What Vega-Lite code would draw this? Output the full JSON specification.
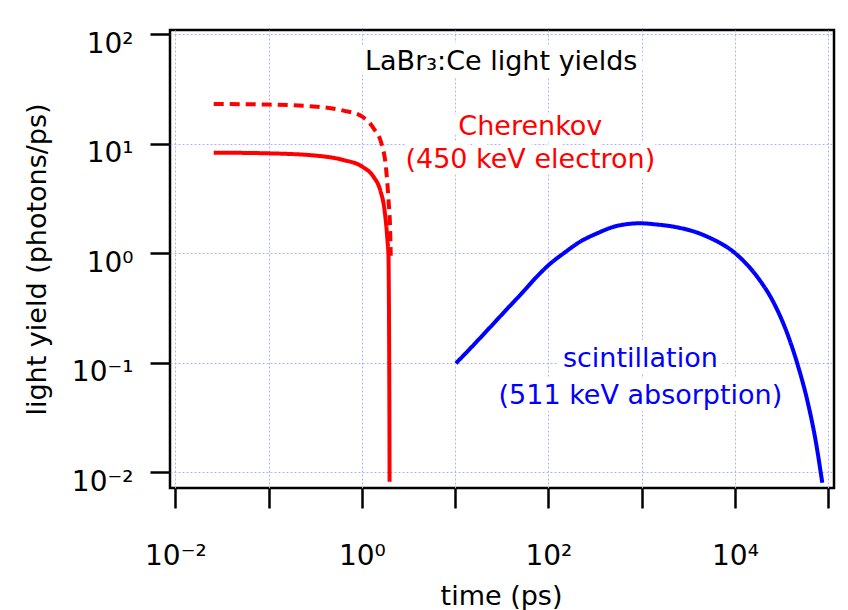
{
  "$schema": "https://vega.github.io/schema/vega-lite/v6.json",
  "autosize": "none",
  "width": 664,
  "height": 458,
  "padding": {"left": 170, "top": 30, "right": 14, "bottom": 122},
  "background": "white",
  "config": {
    "font": "DejaVu Sans",
    "view": {"stroke": "black", "strokeWidth": 2.5}
  },
  "datasets": {
    "curves": [
      {"t": 0.0258, "y": 8.3, "group": "Cherenkov", "variant": "a"},
      {"t": 0.101, "y": 8.18, "group": "Cherenkov", "variant": "a"},
      {"t": 0.329, "y": 7.78, "group": "Cherenkov", "variant": "a"},
      {"t": 0.635, "y": 7.11, "group": "Cherenkov", "variant": "a"},
      {"t": 1.01, "y": 6.18, "group": "Cherenkov", "variant": "a"},
      {"t": 1.33, "y": 5.01, "group": "Cherenkov", "variant": "a"},
      {"t": 1.57, "y": 3.79, "group": "Cherenkov", "variant": "a"},
      {"t": 1.75, "y": 2.48, "group": "Cherenkov", "variant": "a"},
      {"t": 1.88, "y": 1.32, "group": "Cherenkov", "variant": "a"},
      {"t": 1.93, "y": 0.93, "group": "Cherenkov", "variant": "a"},
      {"t": 1.95, "y": 0.37, "group": "Cherenkov", "variant": "a"},
      {"t": 1.965, "y": 0.099, "group": "Cherenkov", "variant": "a"},
      {"t": 1.975, "y": 0.03, "group": "Cherenkov", "variant": "a"},
      {"t": 1.982, "y": 0.0082, "group": "Cherenkov", "variant": "a"},
      {"t": 0.0258, "y": 23.1, "group": "Cherenkov", "variant": "b"},
      {"t": 0.101, "y": 22.8, "group": "Cherenkov", "variant": "b"},
      {"t": 0.329, "y": 21.8, "group": "Cherenkov", "variant": "b"},
      {"t": 0.635, "y": 20.1, "group": "Cherenkov", "variant": "b"},
      {"t": 1.01, "y": 17.7, "group": "Cherenkov", "variant": "b"},
      {"t": 1.33, "y": 13.9, "group": "Cherenkov", "variant": "b"},
      {"t": 1.64, "y": 9.75, "group": "Cherenkov", "variant": "b"},
      {"t": 1.81, "y": 6.18, "group": "Cherenkov", "variant": "b"},
      {"t": 1.93, "y": 3.07, "group": "Cherenkov", "variant": "b"},
      {"t": 2.01, "y": 1.63, "group": "Cherenkov", "variant": "b"},
      {"t": 2.04, "y": 0.95, "group": "Cherenkov", "variant": "b"},
      {"t": 10.2, "y": 0.099, "group": "scintillation", "variant": "a"},
      {"t": 15.7, "y": 0.145, "group": "scintillation", "variant": "a"},
      {"t": 23.8, "y": 0.212, "group": "scintillation", "variant": "a"},
      {"t": 36, "y": 0.31, "group": "scintillation", "variant": "a"},
      {"t": 54.2, "y": 0.45, "group": "scintillation", "variant": "a"},
      {"t": 75.5, "y": 0.615, "group": "scintillation", "variant": "a"},
      {"t": 100.5, "y": 0.781, "group": "scintillation", "variant": "a"},
      {"t": 145.6, "y": 1.0, "group": "scintillation", "variant": "a"},
      {"t": 220, "y": 1.28, "group": "scintillation", "variant": "a"},
      {"t": 332, "y": 1.52, "group": "scintillation", "variant": "a"},
      {"t": 544, "y": 1.78, "group": "scintillation", "variant": "a"},
      {"t": 968, "y": 1.88, "group": "scintillation", "variant": "a"},
      {"t": 1462, "y": 1.83, "group": "scintillation", "variant": "a"},
      {"t": 2203, "y": 1.75, "group": "scintillation", "variant": "a"},
      {"t": 5035, "y": 1.42, "group": "scintillation", "variant": "a"},
      {"t": 10570, "y": 0.966, "group": "scintillation", "variant": "a"},
      {"t": 17300, "y": 0.611, "group": "scintillation", "variant": "a"},
      {"t": 26100, "y": 0.352, "group": "scintillation", "variant": "a"},
      {"t": 36300, "y": 0.186, "group": "scintillation", "variant": "a"},
      {"t": 46500, "y": 0.099, "group": "scintillation", "variant": "a"},
      {"t": 59500, "y": 0.0457, "group": "scintillation", "variant": "a"},
      {"t": 73100, "y": 0.0197, "group": "scintillation", "variant": "a"},
      {"t": 86300, "y": 0.00804, "group": "scintillation", "variant": "a"}
    ],
    "notes": [
      {"t": 31.2, "y": 47.2, "label": "LaBr₃:Ce light yields", "group": "title"},
      {"t": 64, "y": 12.0, "label": "Cherenkov", "group": "Cherenkov"},
      {"t": 64, "y": 5.97, "label": "(450 keV electron)", "group": "Cherenkov"},
      {"t": 968, "y": 0.092, "label": "scintillation", "group": "scintillation"},
      {"t": 968, "y": 0.0421, "label": "(511 keV absorption)", "group": "scintillation"}
    ]
  },
  "encoding": {
    "x": {
      "field": "t",
      "type": "quantitative",
      "scale": {"type": "log", "domain": [0.00877, 115300], "nice": false, "zero": false},
      "axis": {
        "title": "time (ps)",
        "values": [0.01, 0.1, 1, 10, 100, 1000, 10000, 100000],
        "labelExpr": "datum.value < 0.05 ? '10⁻²' : (datum.value > 0.5 && datum.value < 2) ? '10⁰' : (datum.value > 50 && datum.value < 200) ? '10²' : (datum.value > 5000 && datum.value < 20000) ? '10⁴' : ''",
        "domain": false,
        "tickColor": "black",
        "tickWidth": 2.5,
        "tickSize": 20,
        "labelFont": "DejaVu Sans",
        "labelFontSize": 28,
        "labelColor": "black",
        "labelPadding": 56,
        "labelBaseline": "alphabetic",
        "labelFlush": false,
        "labelOverlap": false,
        "labelBound": false,
        "grid": true,
        "gridColor": "#b0b0ff",
        "gridDash": [2, 2],
        "gridWidth": 1,
        "titleFont": "DejaVu Sans",
        "titleFontSize": 27,
        "titleFontWeight": "normal",
        "titleColor": "black",
        "titleX": 331,
        "titleY": 116,
        "titleBaseline": "alphabetic",
        "titleAlign": "center"
      }
    },
    "y": {
      "field": "y",
      "type": "quantitative",
      "scale": {"type": "log", "domain": [0.007194, 109.4], "nice": false, "zero": false},
      "axis": {
        "title": "light yield (photons/ps)",
        "values": [0.01, 0.1, 1, 10, 100],
        "labelExpr": "datum.value < 0.05 ? '10⁻²' : datum.value < 0.5 ? '10⁻¹' : datum.value < 5 ? '10⁰' : datum.value < 50 ? '10¹' : '10²'",
        "domain": false,
        "tickColor": "black",
        "tickWidth": 2.5,
        "tickSize": 20,
        "labelFont": "DejaVu Sans",
        "labelFontSize": 28,
        "labelColor": "black",
        "labelPadding": 17,
        "labelAlign": "right",
        "labelBaseline": "alphabetic",
        "labelOffset": 18,
        "labelFlush": false,
        "labelOverlap": false,
        "labelBound": false,
        "grid": true,
        "gridColor": "#b0b0ff",
        "gridDash": [2, 2],
        "gridWidth": 1,
        "titleFont": "DejaVu Sans",
        "titleFontSize": 27,
        "titleFontWeight": "normal",
        "titleColor": "black",
        "titleAngle": -90,
        "titleX": -125,
        "titleY": 229,
        "titleBaseline": "alphabetic",
        "titleAlign": "center"
      }
    }
  },
  "layer": [
    {
      "data": {"name": "curves"},
      "mark": {"type": "line", "strokeWidth": 4, "interpolate": "monotone", "clip": true},
      "encoding": {
        "color": {
          "field": "group",
          "type": "nominal",
          "scale": {"domain": ["title", "Cherenkov", "scintillation"], "range": ["black", "#ff0000", "#0000ff"]},
          "legend": null
        },
        "strokeDash": {
          "field": "variant",
          "type": "nominal",
          "scale": {"domain": ["a", "b"], "range": [[1, 0], [10, 6]]},
          "legend": null
        }
      }
    },
    {
      "data": {"name": "notes"},
      "mark": {"type": "text", "font": "DejaVu Sans", "fontSize": 27, "align": "center", "baseline": "alphabetic", "fill": "white", "stroke": "white", "strokeWidth": 14, "strokeJoin": "round"},
      "encoding": {"text": {"field": "label"}}
    },
    {
      "data": {"name": "notes"},
      "mark": {"type": "text", "font": "DejaVu Sans", "fontSize": 27, "align": "center", "baseline": "alphabetic"},
      "encoding": {
        "text": {"field": "label"},
        "color": {
          "field": "group",
          "type": "nominal",
          "scale": {"domain": ["title", "Cherenkov", "scintillation"], "range": ["black", "#ff0000", "#0000ff"]},
          "legend": null
        }
      }
    }
  ]
}
